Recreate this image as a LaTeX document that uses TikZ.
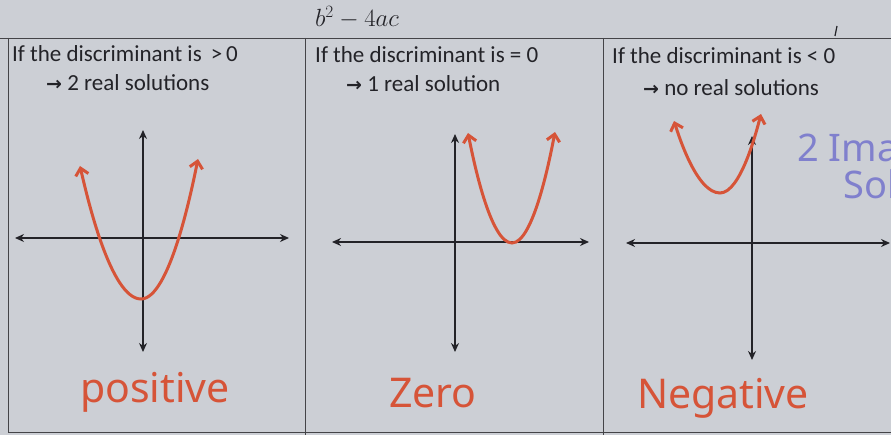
\documentclass[tikz,border=0pt]{standalone}
\usepackage{fontspec}
\setmainfont{Carlito}
\newfontfamily\handfont{Noto Sans}
\newfontfamily\symfont{DejaVu Sans}
\usetikzlibrary{arrows.meta}
\definecolor{paper}{RGB}{204,207,213}
\definecolor{pen}{RGB}{214,84,56}
\definecolor{ink}{RGB}{35,35,40}
\definecolor{violetpen}{RGB}{128,128,205}
\begin{document}
\begin{tikzpicture}[x=1pt,y=-1pt,
 axis/.style={ink, line width=1.4pt, {Stealth[length=9pt,width=8pt]}-{Stealth[length=9pt,width=8pt]}},
 curve/.style={pen, line width=3pt, line cap=round, {Straight Barb[length=7pt,width=13pt]}-{Straight Barb[length=7pt,width=13pt]}},
 rule/.style={draw=ink!85, line width=0.9pt},
 head/.style={anchor=base west, font=\fontsize{23}{26}\selectfont, text=ink, inner sep=0pt},
 hand/.style={font=\handfont\fontsize{41}{44}\selectfont, text=pen, inner sep=0pt},
 purple/.style={anchor=base west, font=\handfont\fontsize{38}{40}\selectfont, text=violetpen, inner sep=0pt}]
\fill[paper] (0,0) rectangle (891,435);
\useasboundingbox (0,0) rectangle (891,435);
% table
\coordinate (tl) at (8,38); \coordinate (tr) at (891,38);
\coordinate (bl) at (8,432); \coordinate (br) at (891,432);
\coordinate (d1t) at (305,38); \coordinate (d1b) at (305,435);
\coordinate (d2t) at (603,38); \coordinate (d2b) at (603,435);
\draw[rule] (0,38) -- (tr);
\draw[rule] (tl) -- (bl) -- (br);
\draw[rule] (d1t) -- (d1b);
\draw[rule] (d2t) -- (d2b);
\coordinate (m1) at (835,36); \coordinate (m2) at (837,26);
\draw[ink, line width=1.2pt] (m1) -- (m2);
% title
\node[font=\fontsize{27}{30}\selectfont, text=ink, inner sep=0pt] (title) at (357,17) {$b^2-4ac$};
% headers
\node[head] (h1a) at (12,62) {If the discriminant is \,>\,0};
\node[head] (h1b) at (46,91) {{\symfont\bfseries\fontsize{19}{20}\selectfont →} 2 real solutions};
\node[head] (h2a) at (315,63) {If the discriminant is = 0};
\node[head] (h2b) at (346,92) {{\symfont\bfseries\fontsize{19}{20}\selectfont →} 1 real solution};
\node[head] (h3a) at (612,64) {If the discriminant is < 0};
\node[head] (h3b) at (643,96) {{\symfont\bfseries\fontsize{19}{20}\selectfont →} no real solutions};
% panel 1
\coordinate (a1t) at (143,130); \coordinate (a1b) at (143,352);
\coordinate (a1l) at (15,238); \coordinate (a1r) at (289,238);
\draw[axis] (a1t) -- (a1b);
\draw[axis] (a1l) -- (a1r);
\coordinate (p1l) at (80,166); \coordinate (p1v) at (141,299); \coordinate (p1r) at (198,159);
\draw[curve] (p1l) parabola bend (p1v) (p1r);
\node[hand] (pos) at (155,392) {positive};
% panel 2
\coordinate (a2t) at (455,134); \coordinate (a2b) at (455,352);
\coordinate (a2l) at (332,242); \coordinate (a2r) at (589,242);
\draw[axis] (a2t) -- (a2b);
\draw[axis] (a2l) -- (a2r);
\coordinate (p2l) at (468,133); \coordinate (p2v) at (512,243); \coordinate (p2r) at (555,132);
\draw[curve] (p2l) parabola bend (p2v) (p2r);
\node[hand] (zero) at (433,393) {Zero};
% panel 3
\coordinate (a3t) at (752,136); \coordinate (a3b) at (752,360);
\coordinate (a3l) at (626,243); \coordinate (a3r) at (890,243);
\draw[axis] (a3t) -- (a3b);
\draw[axis] (a3l) -- (a3r);
\coordinate (p3l) at (674,121); \coordinate (p3v) at (720,193); \coordinate (p3r) at (761,114);
\draw[curve] (p3l) parabola bend (p3v) (p3r);
\node[hand] (neg) at (723,398) {Negative};
\node[purple] (ima) at (797,162) {2 Ima};
\node[purple] (sol) at (843,199) {Sol};
\end{tikzpicture}
\end{document}
